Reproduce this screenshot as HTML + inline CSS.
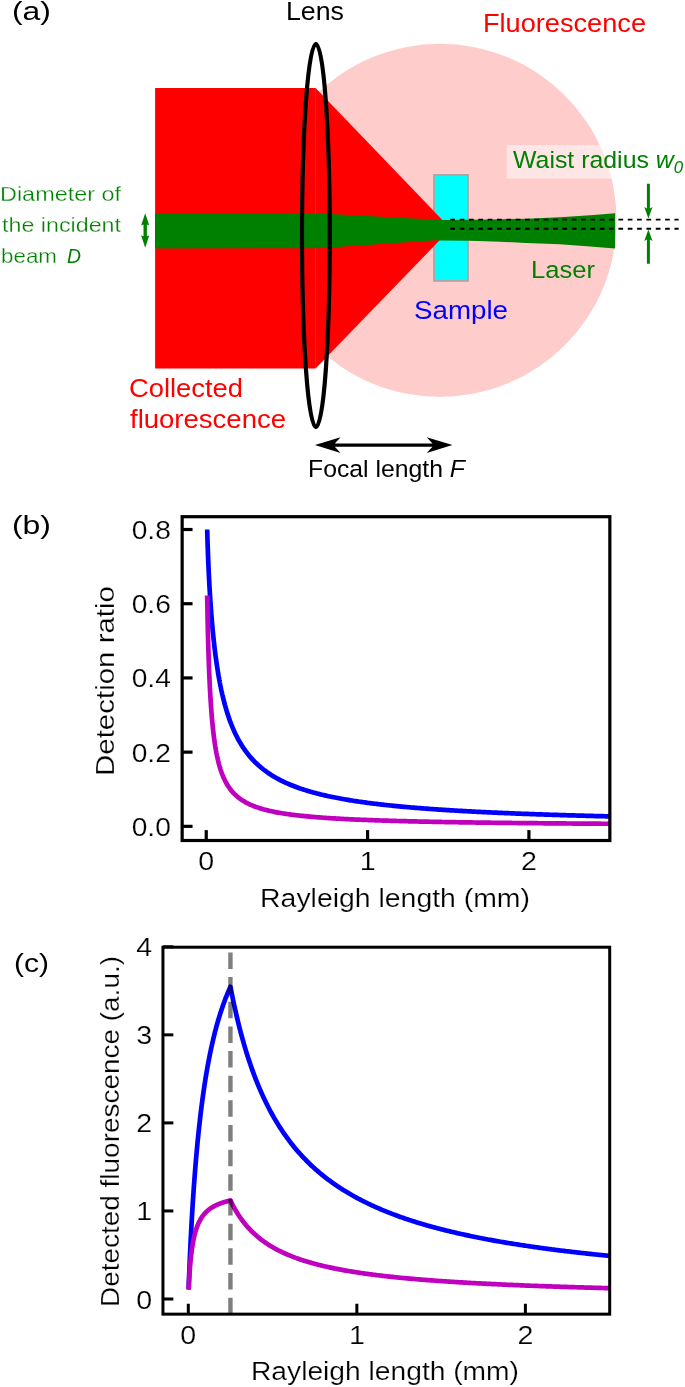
<!DOCTYPE html>
<html><head><meta charset="utf-8"><title>Figure</title>
<style>
html,body{margin:0;padding:0;background:#fff;}
body{width:685px;height:1387px;overflow:hidden;font-family:"Liberation Sans",sans-serif;}
svg{display:block;font-family:"Liberation Sans",sans-serif;will-change:transform;}
</style></head><body>
<svg width="685" height="1387" viewBox="0 0 685 1387">
<rect width="685" height="1387" fill="#fff"/>
<circle cx="440" cy="220.35" r="176.6" fill="#ffcccc"/>
<rect x="434" y="174.95" width="34" height="105.95" fill="#00ffff" stroke="#b0a4a4" stroke-width="1.8"/>
<polygon points="155.1,88.1 315.6,88.1 450.8,228.7 315.6,368.5 155.1,368.5" fill="#ff0000"/>
<path d="M315.6 88.1V368.5" stroke="#fff" stroke-opacity="0.1" stroke-width="1"/>
<polygon points="155.1,213.7 316,213.7 330,214.1 442,219.9 470,219.8 500,219.3 526,218.7 560,217.2 590,215.2 615.1,213.3 615.1,248.6 590,246.6 560,244.3 526,242.9 500,241.7 470,240.8 440,240.4 436,240.3 330,247.4 316,248.3 155.1,248.4" fill="#008000"/>
<rect x="506.8" y="145" width="180" height="33.6" fill="#ffffff" fill-opacity="0.5"/>
<path d="M450.3 219.6H678.6M450.3 228.7H678.6" stroke="#000" stroke-width="1.9" stroke-dasharray="4.7 4.64" fill="none"/>
<ellipse cx="315.9" cy="235.5" rx="13.9" ry="191.6" fill="none" stroke="#000" stroke-width="4.2"/>
<path d="M646.9 183.8H649.9V208.4L652.5 207.1L648.4 218.4L644.3 207.1L646.9 208.4Z" fill="#008000"/>
<path d="M646.9 263.7H649.9V239.6L652.5 240.9L648.4 229.6L644.3 240.9L646.9 239.6Z" fill="#008000"/>
<path d="M145.2 213.2L149.3 225.6L146.9 224.6V236.3L149.3 235.3L145.2 247.7L141.1 235.3L143.5 236.3V224.6L141.1 225.6Z" fill="#008000"/>
<path d="M314.9 445.1L340.6 437.2L334.8 443.5H432.5L426.7 437.2L452.4 445.1L426.7 453L432.5 446.7H334.8L340.6 453Z" fill="#000"/>
<text x="12" y="19.9" font-size="26" fill="#000" text-anchor="start" textLength="39" lengthAdjust="spacingAndGlyphs">(a)</text>
<text x="286" y="19.7" font-size="26" fill="#000" text-anchor="start" textLength="58" lengthAdjust="spacingAndGlyphs">Lens</text>
<text x="483" y="31.6" font-size="26" fill="#ff0000" text-anchor="start" textLength="163" lengthAdjust="spacingAndGlyphs">Fluorescence</text>
<text x="129" y="397.1" font-size="26" fill="#ff0000" text-anchor="start" textLength="114" lengthAdjust="spacingAndGlyphs">Collected</text>
<text x="130" y="427.8" font-size="26" fill="#ff0000" text-anchor="start" textLength="156" lengthAdjust="spacingAndGlyphs">fluorescence</text>
<text x="414" y="319" font-size="26" fill="#0000ff" text-anchor="start" textLength="94" lengthAdjust="spacingAndGlyphs">Sample</text>
<text x="531" y="278.3" font-size="24.3" fill="#008000" text-anchor="start" textLength="64" lengthAdjust="spacingAndGlyphs">Laser</text>
<text x="513" y="168.2" font-size="24.3" fill="#008000" text-anchor="start" textLength="170.2" lengthAdjust="spacingAndGlyphs">Waist radius <tspan font-style="italic">w</tspan><tspan font-style="italic" font-size="16.5" dy="4.6">0</tspan></text>
<text x="308" y="476.7" font-size="24.3" fill="#000" text-anchor="start" textLength="157" lengthAdjust="spacingAndGlyphs">Focal length <tspan font-style="italic">F</tspan></text>
<text x="0" y="200.9" font-size="20.4" fill="#008000" text-anchor="start" textLength="121" lengthAdjust="spacingAndGlyphs" stroke="#fff" stroke-width="0.3">Diameter of</text>
<text x="2" y="232.2" font-size="20.4" fill="#008000" text-anchor="start" textLength="119" lengthAdjust="spacingAndGlyphs" stroke="#fff" stroke-width="0.3">the incident</text>
<text x="1" y="262.6" font-size="20.4" fill="#008000" text-anchor="start" textLength="56" lengthAdjust="spacingAndGlyphs" stroke="#fff" stroke-width="0.3">beam</text>
<text x="67" y="262.6" font-size="20.4" fill="#008000" text-anchor="start" textLength="14" lengthAdjust="spacingAndGlyphs" font-style="italic">D</text>
<path d="M207.19 529.5 L207.27 532.33 L207.34 535.04 L207.42 537.64 L207.5 540.15 L207.57 542.57 L207.65 544.91 L207.73 547.17 L207.8 549.37 L207.88 551.51 L207.95 553.58 L208.03 555.6 L208.11 557.57 L208.18 559.49 L208.26 561.36 L208.34 563.19 L208.41 564.97 L208.49 566.72 L208.57 568.43 L208.64 570.11 L208.72 571.75 L208.79 573.35 L208.87 574.93 L208.95 576.48 L209.02 578 L209.1 579.49 L209.18 580.95 L209.25 582.39 L209.33 583.8 L209.4 585.2 L209.48 586.56 L209.56 587.91 L209.63 589.23 L209.71 590.54 L209.79 591.82 L209.86 593.09 L209.94 594.33 L210.02 595.56 L210.09 596.77 L210.17 597.96 L210.24 599.14 L210.32 600.3 L210.4 601.44 L210.47 602.57 L210.55 603.68 L210.63 604.78 L210.7 605.87 L210.78 606.94 L210.86 608 L210.93 609.04 L211.01 610.07 L211.08 611.09 L211.16 612.1 L211.24 613.1 L211.31 614.08 L211.39 615.05 L211.47 616.01 L211.54 616.96 L211.62 617.9 L211.7 618.83 L211.77 619.75 L211.85 620.66 L211.92 621.56 L212 622.45 L212.08 623.33 L212.15 624.2 L212.23 625.06 L212.31 625.91 L212.38 626.75 L212.46 627.59 L212.53 628.42 L212.61 629.23 L212.69 630.05 L212.76 630.85 L212.84 631.64 L212.92 632.43 L212.99 633.21 L213.07 633.98 L213.15 634.74 L213.22 635.5 L213.3 636.25 L213.37 637 L213.45 637.73 L213.53 638.46 L213.6 639.19 L213.68 639.9 L213.76 640.61 L213.83 641.32 L213.91 642.02 L213.99 642.71 L214.06 643.39 L214.14 644.07 L214.21 644.75 L214.29 645.42 L214.37 646.08 L214.44 646.74 L214.52 647.39 L214.6 648.03 L214.67 648.68 L214.75 649.31 L214.83 649.94 L214.9 650.57 L214.98 651.19 L215.05 651.8 L215.13 652.41 L215.21 653.02 L215.28 653.62 L215.36 654.22 L215.44 654.81 L215.51 655.4 L215.59 655.98 L215.66 656.56 L215.74 657.13 L215.82 657.7 L215.89 658.26 L215.97 658.83 L216.05 659.38 L216.12 659.93 L216.2 660.48 L216.28 661.03 L216.35 661.57 L216.43 662.1 L216.5 662.64 L216.58 663.17 L216.66 663.69 L216.73 664.21 L216.81 664.73 L216.89 665.24 L216.96 665.75 L217.04 666.26 L217.12 666.76 L217.19 667.26 L217.27 667.76 L217.34 668.25 L217.42 668.74 L217.5 669.23 L217.57 669.71 L217.65 670.19 L217.73 670.67 L217.8 671.14 L217.88 671.61 L217.96 672.08 L218.03 672.54 L218.11 673.01 L218.18 673.46 L218.26 673.92 L218.34 674.37 L218.41 674.82 L218.49 675.27 L218.57 675.71 L218.64 676.15 L218.72 676.59 L218.79 677.02 L218.87 677.46 L218.95 677.89 L219.02 678.31 L219.1 678.74 L219.18 679.16 L219.25 679.58 L219.33 679.99 L219.41 680.41 L219.48 680.82 L219.56 681.23 L219.63 681.64 L219.71 682.04 L219.79 682.44 L219.86 682.84 L219.94 683.24 L220.02 683.63 L220.09 684.02 L220.17 684.41 L220.25 684.8 L220.32 685.19 L220.4 685.57 L220.47 685.95 L220.55 686.33 L220.63 686.71 L220.7 687.08 L220.78 687.45 L220.86 687.82 L220.93 688.19 L221.01 688.56 L221.09 688.92 L221.16 689.28 L221.24 689.64 L221.31 690 L221.39 690.36 L221.47 690.71 L221.54 691.06 L221.62 691.41 L221.7 691.76 L221.77 692.11 L221.85 692.45 L221.92 692.79 L222 693.13 L222.08 693.47 L222.15 693.81 L222.23 694.14 L222.31 694.48 L222.38 694.81 L223.68 700.17 L224.97 705.1 L226.27 709.64 L227.56 713.84 L228.86 717.73 L230.15 721.36 L231.45 724.74 L232.74 727.91 L234.04 730.88 L235.33 733.68 L236.63 736.31 L237.92 738.79 L239.22 741.13 L240.51 743.36 L241.81 745.46 L243.1 747.46 L244.4 749.37 L245.69 751.18 L246.99 752.91 L248.28 754.56 L249.58 756.13 L250.87 757.64 L252.17 759.08 L253.46 760.46 L254.76 761.79 L256.05 763.07 L257.35 764.29 L258.64 765.47 L259.94 766.6 L261.23 767.69 L262.53 768.74 L263.82 769.76 L265.12 770.74 L266.41 771.68 L267.71 772.6 L269 773.48 L270.3 774.33 L271.59 775.16 L272.89 775.96 L274.18 776.74 L275.48 777.49 L276.77 778.22 L278.07 778.93 L279.36 779.62 L280.66 780.29 L281.95 780.94 L283.25 781.57 L284.54 782.18 L285.84 782.78 L287.13 783.36 L288.43 783.93 L289.72 784.48 L291.02 785.01 L292.31 785.54 L293.61 786.05 L294.9 786.54 L296.2 787.03 L297.49 787.5 L298.79 787.96 L300.08 788.42 L301.38 788.86 L302.67 789.29 L303.97 789.71 L305.26 790.12 L306.56 790.52 L307.85 790.92 L309.15 791.3 L310.44 791.68 L311.74 792.04 L313.03 792.41 L314.32 792.76 L315.62 793.1 L316.91 793.44 L318.21 793.78 L319.5 794.1 L320.8 794.42 L322.09 794.73 L323.39 795.04 L324.68 795.34 L325.98 795.63 L327.27 795.92 L328.57 796.21 L329.86 796.49 L331.16 796.76 L332.45 797.03 L333.75 797.29 L335.04 797.55 L336.34 797.81 L337.63 798.06 L338.93 798.3 L340.22 798.54 L341.52 798.78 L342.81 799.01 L344.11 799.24 L345.4 799.47 L346.7 799.69 L347.99 799.91 L349.29 800.12 L350.58 800.33 L351.88 800.54 L353.17 800.75 L354.47 800.95 L355.76 801.15 L357.06 801.34 L358.35 801.53 L359.65 801.72 L360.94 801.91 L362.24 802.09 L363.53 802.27 L364.83 802.45 L366.12 802.63 L367.42 802.8 L368.71 802.97 L370.01 803.14 L371.3 803.3 L372.6 803.47 L373.89 803.63 L375.19 803.78 L376.48 803.94 L377.78 804.1 L379.07 804.25 L380.37 804.4 L381.66 804.55 L382.96 804.69 L384.25 804.84 L385.55 804.98 L386.84 805.12 L388.14 805.26 L389.43 805.39 L390.73 805.53 L392.02 805.66 L393.32 805.79 L394.61 805.92 L395.91 806.05 L397.2 806.18 L398.5 806.3 L399.79 806.43 L401.09 806.55 L402.38 806.67 L403.68 806.79 L404.97 806.91 L406.27 807.02 L407.56 807.14 L408.86 807.25 L410.15 807.36 L411.45 807.47 L412.74 807.58 L414.04 807.69 L415.33 807.8 L416.63 807.9 L417.92 808.01 L419.22 808.11 L420.51 808.21 L421.81 808.32 L423.1 808.42 L424.4 808.51 L425.69 808.61 L426.99 808.71 L428.28 808.8 L429.58 808.9 L430.87 808.99 L432.17 809.09 L433.46 809.18 L434.76 809.27 L436.05 809.36 L437.35 809.45 L438.64 809.53 L439.94 809.62 L441.23 809.71 L442.53 809.79 L443.82 809.88 L445.12 809.96 L446.41 810.04 L447.71 810.12 L449 810.21 L450.3 810.29 L451.59 810.37 L452.89 810.44 L454.18 810.52 L455.48 810.6 L456.77 810.68 L458.07 810.75 L459.36 810.83 L460.65 810.9 L461.95 810.97 L463.24 811.05 L464.54 811.12 L465.83 811.19 L467.13 811.26 L468.42 811.33 L469.72 811.4 L471.01 811.47 L472.31 811.54 L473.6 811.6 L474.9 811.67 L476.19 811.74 L477.49 811.8 L478.78 811.87 L480.08 811.93 L481.37 812 L482.67 812.06 L483.96 812.12 L485.26 812.19 L486.55 812.25 L487.85 812.31 L489.14 812.37 L490.44 812.43 L491.73 812.49 L493.03 812.55 L494.32 812.61 L495.62 812.66 L496.91 812.72 L498.21 812.78 L499.5 812.84 L500.8 812.89 L502.09 812.95 L503.39 813 L504.68 813.06 L505.98 813.11 L507.27 813.17 L508.57 813.22 L509.86 813.27 L511.16 813.33 L512.45 813.38 L513.75 813.43 L515.04 813.48 L516.34 813.53 L517.63 813.58 L518.93 813.63 L520.22 813.68 L521.52 813.73 L522.81 813.78 L524.11 813.83 L525.4 813.88 L526.7 813.93 L527.99 813.97 L529.29 814.02 L530.58 814.07 L531.88 814.11 L533.17 814.16 L534.47 814.21 L535.76 814.25 L537.06 814.3 L538.35 814.34 L539.65 814.39 L540.94 814.43 L542.24 814.47 L543.53 814.52 L544.83 814.56 L546.12 814.6 L547.42 814.65 L548.71 814.69 L550.01 814.73 L551.3 814.77 L552.6 814.81 L553.89 814.85 L555.19 814.89 L556.48 814.93 L557.78 814.97 L559.07 815.01 L560.37 815.05 L561.66 815.09 L562.96 815.13 L564.25 815.17 L565.55 815.21 L566.84 815.25 L568.14 815.29 L569.43 815.32 L570.73 815.36 L572.02 815.4 L573.32 815.44 L574.61 815.47 L575.91 815.51 L577.2 815.54 L578.5 815.58 L579.79 815.62 L581.09 815.65 L582.38 815.69 L583.68 815.72 L584.97 815.76 L586.27 815.79 L587.56 815.83 L588.86 815.86 L590.15 815.89 L591.45 815.93 L592.74 815.96 L594.04 815.99 L595.33 816.03 L596.63 816.06 L597.92 816.09 L599.22 816.13 L600.51 816.16 L601.81 816.19 L603.1 816.22 L604.4 816.25 L605.69 816.28 L606.99 816.32 L608.28 816.35 L609.58 816.38" fill="none" stroke="#0000ff" stroke-width="4.7"/>
<path d="M207.19 595.53 L207.27 600.27 L207.34 604.76 L207.42 609.02 L207.5 613.08 L207.57 616.94 L207.65 620.64 L207.73 624.18 L207.8 627.57 L207.88 630.83 L207.95 633.96 L208.03 636.98 L208.11 639.89 L208.18 642.69 L208.26 645.4 L208.34 648.02 L208.41 650.55 L208.49 653.01 L208.57 655.38 L208.64 657.69 L208.72 659.92 L208.79 662.09 L208.87 664.2 L208.95 666.25 L209.02 668.24 L209.1 670.18 L209.18 672.07 L209.25 673.91 L209.33 675.7 L209.4 677.45 L209.48 679.15 L209.56 680.81 L209.63 682.43 L209.71 684.02 L209.79 685.56 L209.86 687.07 L209.94 688.55 L210.02 689.99 L210.09 691.4 L210.17 692.79 L210.24 694.14 L210.32 695.46 L210.4 696.75 L210.47 698.02 L210.55 699.26 L210.63 700.48 L210.7 701.67 L210.78 702.84 L210.86 703.99 L210.93 705.11 L211.01 706.22 L211.08 707.3 L211.16 708.36 L211.24 709.4 L211.31 710.43 L211.39 711.43 L211.47 712.42 L211.54 713.39 L211.62 714.34 L211.7 715.28 L211.77 716.2 L211.85 717.1 L211.92 717.99 L212 718.86 L212.08 719.72 L212.15 720.57 L212.23 721.4 L212.31 722.22 L212.38 723.02 L212.46 723.82 L212.53 724.6 L212.61 725.36 L212.69 726.12 L212.76 726.87 L212.84 727.6 L212.92 728.32 L212.99 729.03 L213.07 729.73 L213.15 730.42 L213.22 731.11 L213.3 731.78 L213.37 732.44 L213.45 733.09 L213.53 733.73 L213.6 734.37 L213.68 734.99 L213.76 735.61 L213.83 736.21 L213.91 736.81 L213.99 737.41 L214.06 737.99 L214.14 738.56 L214.21 739.13 L214.29 739.69 L214.37 740.25 L214.44 740.79 L214.52 741.33 L214.6 741.86 L214.67 742.39 L214.75 742.91 L214.83 743.42 L214.9 743.93 L214.98 744.43 L215.05 744.92 L215.13 745.41 L215.21 745.89 L215.28 746.37 L215.36 746.84 L215.44 747.3 L215.51 747.76 L215.59 748.21 L215.66 748.66 L215.74 749.11 L215.82 749.54 L215.89 749.98 L215.97 750.41 L216.05 750.83 L216.12 751.25 L216.2 751.66 L216.28 752.07 L216.35 752.48 L216.43 752.88 L216.5 753.27 L216.58 753.66 L216.66 754.05 L216.73 754.43 L216.81 754.81 L216.89 755.19 L216.96 755.56 L217.04 755.93 L217.12 756.29 L217.19 756.65 L217.27 757.01 L217.34 757.36 L217.42 757.71 L217.5 758.05 L217.57 758.39 L217.65 758.73 L217.73 759.07 L217.8 759.4 L217.88 759.73 L217.96 760.05 L218.03 760.37 L218.11 760.69 L218.18 761.01 L218.26 761.32 L218.34 761.63 L218.41 761.94 L218.49 762.24 L218.57 762.54 L218.64 762.84 L218.72 763.13 L218.79 763.43 L218.87 763.72 L218.95 764 L219.02 764.29 L219.1 764.57 L219.18 764.85 L219.25 765.13 L219.33 765.4 L219.41 765.67 L219.48 765.94 L219.56 766.21 L219.63 766.47 L219.71 766.73 L219.79 766.99 L219.86 767.25 L219.94 767.51 L220.02 767.76 L220.09 768.01 L220.17 768.26 L220.25 768.51 L220.32 768.75 L220.4 768.99 L220.47 769.23 L220.55 769.47 L220.63 769.71 L220.7 769.94 L220.78 770.18 L220.86 770.41 L220.93 770.63 L221.01 770.86 L221.09 771.09 L221.16 771.31 L221.24 771.53 L221.31 771.75 L221.39 771.97 L221.47 772.18 L221.54 772.4 L221.62 772.61 L221.7 772.82 L221.77 773.03 L221.85 773.24 L221.92 773.44 L222 773.65 L222.08 773.85 L222.15 774.05 L222.23 774.25 L222.31 774.45 L222.38 774.65 L223.68 777.77 L224.97 780.53 L226.27 783 L227.56 785.21 L228.86 787.21 L230.15 789.02 L231.45 790.67 L232.74 792.18 L234.04 793.57 L235.33 794.85 L236.63 796.03 L237.92 797.13 L239.22 798.15 L240.51 799.1 L241.81 799.99 L243.1 800.82 L244.4 801.6 L245.69 802.34 L246.99 803.03 L248.28 803.69 L249.58 804.3 L250.87 804.89 L252.17 805.44 L253.46 805.97 L254.76 806.47 L256.05 806.95 L257.35 807.4 L258.64 807.84 L259.94 808.25 L261.23 808.65 L262.53 809.03 L263.82 809.39 L265.12 809.74 L266.41 810.07 L267.71 810.4 L269 810.7 L270.3 811 L271.59 811.29 L272.89 811.56 L274.18 811.83 L275.48 812.08 L276.77 812.33 L278.07 812.57 L279.36 812.8 L280.66 813.02 L281.95 813.24 L283.25 813.45 L284.54 813.65 L285.84 813.85 L287.13 814.04 L288.43 814.22 L289.72 814.4 L291.02 814.58 L292.31 814.75 L293.61 814.91 L294.9 815.07 L296.2 815.22 L297.49 815.38 L298.79 815.52 L300.08 815.67 L301.38 815.8 L302.67 815.94 L303.97 816.07 L305.26 816.2 L306.56 816.33 L307.85 816.45 L309.15 816.57 L310.44 816.69 L311.74 816.8 L313.03 816.91 L314.32 817.02 L315.62 817.13 L316.91 817.23 L318.21 817.33 L319.5 817.43 L320.8 817.53 L322.09 817.62 L323.39 817.72 L324.68 817.81 L325.98 817.9 L327.27 817.99 L328.57 818.07 L329.86 818.15 L331.16 818.24 L332.45 818.32 L333.75 818.4 L335.04 818.47 L336.34 818.55 L337.63 818.62 L338.93 818.7 L340.22 818.77 L341.52 818.84 L342.81 818.91 L344.11 818.98 L345.4 819.04 L346.7 819.11 L347.99 819.17 L349.29 819.24 L350.58 819.3 L351.88 819.36 L353.17 819.42 L354.47 819.48 L355.76 819.54 L357.06 819.59 L358.35 819.65 L359.65 819.7 L360.94 819.76 L362.24 819.81 L363.53 819.86 L364.83 819.92 L366.12 819.97 L367.42 820.02 L368.71 820.07 L370.01 820.11 L371.3 820.16 L372.6 820.21 L373.89 820.25 L375.19 820.3 L376.48 820.35 L377.78 820.39 L379.07 820.43 L380.37 820.48 L381.66 820.52 L382.96 820.56 L384.25 820.6 L385.55 820.64 L386.84 820.68 L388.14 820.72 L389.43 820.76 L390.73 820.8 L392.02 820.84 L393.32 820.87 L394.61 820.91 L395.91 820.95 L397.2 820.98 L398.5 821.02 L399.79 821.05 L401.09 821.09 L402.38 821.12 L403.68 821.15 L404.97 821.19 L406.27 821.22 L407.56 821.25 L408.86 821.28 L410.15 821.32 L411.45 821.35 L412.74 821.38 L414.04 821.41 L415.33 821.44 L416.63 821.47 L417.92 821.5 L419.22 821.53 L420.51 821.56 L421.81 821.58 L423.1 821.61 L424.4 821.64 L425.69 821.67 L426.99 821.69 L428.28 821.72 L429.58 821.75 L430.87 821.77 L432.17 821.8 L433.46 821.82 L434.76 821.85 L436.05 821.87 L437.35 821.9 L438.64 821.92 L439.94 821.95 L441.23 821.97 L442.53 821.99 L443.82 822.02 L445.12 822.04 L446.41 822.06 L447.71 822.09 L449 822.11 L450.3 822.13 L451.59 822.15 L452.89 822.17 L454.18 822.2 L455.48 822.22 L456.77 822.24 L458.07 822.26 L459.36 822.28 L460.65 822.3 L461.95 822.32 L463.24 822.34 L464.54 822.36 L465.83 822.38 L467.13 822.4 L468.42 822.42 L469.72 822.44 L471.01 822.46 L472.31 822.47 L473.6 822.49 L474.9 822.51 L476.19 822.53 L477.49 822.55 L478.78 822.56 L480.08 822.58 L481.37 822.6 L482.67 822.62 L483.96 822.63 L485.26 822.65 L486.55 822.67 L487.85 822.68 L489.14 822.7 L490.44 822.72 L491.73 822.73 L493.03 822.75 L494.32 822.77 L495.62 822.78 L496.91 822.8 L498.21 822.81 L499.5 822.83 L500.8 822.84 L502.09 822.86 L503.39 822.87 L504.68 822.89 L505.98 822.9 L507.27 822.92 L508.57 822.93 L509.86 822.95 L511.16 822.96 L512.45 822.98 L513.75 822.99 L515.04 823 L516.34 823.02 L517.63 823.03 L518.93 823.04 L520.22 823.06 L521.52 823.07 L522.81 823.08 L524.11 823.1 L525.4 823.11 L526.7 823.12 L527.99 823.14 L529.29 823.15 L530.58 823.16 L531.88 823.17 L533.17 823.19 L534.47 823.2 L535.76 823.21 L537.06 823.22 L538.35 823.24 L539.65 823.25 L540.94 823.26 L542.24 823.27 L543.53 823.28 L544.83 823.29 L546.12 823.31 L547.42 823.32 L548.71 823.33 L550.01 823.34 L551.3 823.35 L552.6 823.36 L553.89 823.37 L555.19 823.38 L556.48 823.39 L557.78 823.41 L559.07 823.42 L560.37 823.43 L561.66 823.44 L562.96 823.45 L564.25 823.46 L565.55 823.47 L566.84 823.48 L568.14 823.49 L569.43 823.5 L570.73 823.51 L572.02 823.52 L573.32 823.53 L574.61 823.54 L575.91 823.55 L577.2 823.56 L578.5 823.57 L579.79 823.58 L581.09 823.59 L582.38 823.6 L583.68 823.61 L584.97 823.61 L586.27 823.62 L587.56 823.63 L588.86 823.64 L590.15 823.65 L591.45 823.66 L592.74 823.67 L594.04 823.68 L595.33 823.69 L596.63 823.7 L597.92 823.7 L599.22 823.71 L600.51 823.72 L601.81 823.73 L603.1 823.74 L604.4 823.75 L605.69 823.75 L606.99 823.76 L608.28 823.77 L609.58 823.78" fill="none" stroke="#bf00bf" stroke-width="4.7"/>
<g stroke="#000" stroke-width="3.2"><line x1="182.15" x2="192.55" y1="826.35" y2="826.35"/><line x1="182.15" x2="192.55" y1="752.14" y2="752.14"/><line x1="182.15" x2="192.55" y1="677.93" y2="677.93"/><line x1="182.15" x2="192.55" y1="603.71" y2="603.71"/><line x1="182.15" x2="192.55" y1="529.5" y2="529.5"/><line x1="206.25" x2="206.25" y1="840.5" y2="830.1"/><line x1="367.58" x2="367.58" y1="840.5" y2="830.1"/><line x1="528.91" x2="528.91" y1="840.5" y2="830.1"/></g>
<rect x="182.15" y="516.7" width="427.7" height="323.8" fill="none" stroke="#000" stroke-width="3.2"/>
<text x="12" y="533.9" font-size="26" fill="#000" text-anchor="start" textLength="39" lengthAdjust="spacingAndGlyphs">(b)</text>
<text x="131.7" y="835.85" font-size="26" fill="#000" text-anchor="start" textLength="39.2" lengthAdjust="spacingAndGlyphs" stroke="#fff" stroke-width="0.2">0.0</text>
<text x="131.7" y="761.64" font-size="26" fill="#000" text-anchor="start" textLength="39.2" lengthAdjust="spacingAndGlyphs" stroke="#fff" stroke-width="0.2">0.2</text>
<text x="131.7" y="687.43" font-size="26" fill="#000" text-anchor="start" textLength="39.2" lengthAdjust="spacingAndGlyphs" stroke="#fff" stroke-width="0.2">0.4</text>
<text x="131.7" y="613.21" font-size="26" fill="#000" text-anchor="start" textLength="39.2" lengthAdjust="spacingAndGlyphs" stroke="#fff" stroke-width="0.2">0.6</text>
<text x="131.7" y="539" font-size="26" fill="#000" text-anchor="start" textLength="39.2" lengthAdjust="spacingAndGlyphs" stroke="#fff" stroke-width="0.2">0.8</text>
<text transform="translate(206.25 870.4) scale(1.1 1)" font-size="26" fill="#000" text-anchor="middle" stroke="#fff" stroke-width="0.2">0</text>
<text transform="translate(367.58 870.4) scale(1.1 1)" font-size="26" fill="#000" text-anchor="middle" stroke="#fff" stroke-width="0.2">1</text>
<text transform="translate(528.91 870.4) scale(1.1 1)" font-size="26" fill="#000" text-anchor="middle" stroke="#fff" stroke-width="0.2">2</text>
<text x="260.1" y="906.8" font-size="25.6" fill="#000" text-anchor="start" textLength="269.9" lengthAdjust="spacingAndGlyphs" stroke="#fff" stroke-width="0.2">Rayleigh length (mm)</text>
<text transform="translate(114.2 776) rotate(-90)" x="0" y="0" font-size="25.6" fill="#000" text-anchor="start" textLength="190" lengthAdjust="spacingAndGlyphs" stroke="#fff" stroke-width="0.2">Detection ratio</text>
<path d="M188.64 1288.62 L188.8 1283.89 L188.97 1279.35 L189.14 1274.97 L189.31 1270.75 L189.48 1266.65 L189.64 1262.67 L189.81 1258.8 L189.98 1255.04 L190.15 1251.37 L190.32 1247.79 L190.48 1244.29 L190.65 1240.87 L190.82 1237.53 L190.99 1234.26 L191.16 1231.06 L191.32 1227.92 L191.49 1224.85 L191.66 1221.84 L191.83 1218.88 L191.99 1215.98 L192.16 1213.14 L192.33 1210.35 L192.5 1207.6 L192.67 1204.91 L192.83 1202.26 L193 1199.66 L193.17 1197.1 L193.34 1194.58 L193.51 1192.11 L193.67 1189.67 L193.84 1187.28 L194.01 1184.92 L194.18 1182.6 L194.34 1180.31 L194.51 1178.06 L194.68 1175.84 L194.85 1173.66 L195.02 1171.5 L195.18 1169.38 L195.35 1167.29 L195.52 1165.23 L195.69 1163.2 L195.86 1161.19 L196.02 1159.22 L196.19 1157.27 L196.36 1155.35 L196.53 1153.45 L196.7 1151.58 L196.86 1149.73 L197.03 1147.91 L197.2 1146.11 L197.37 1144.33 L197.53 1142.58 L197.7 1140.85 L197.87 1139.14 L198.04 1137.45 L198.21 1135.78 L198.37 1134.14 L198.54 1132.51 L198.71 1130.9 L198.88 1129.31 L199.05 1127.75 L199.21 1126.19 L199.38 1124.66 L199.55 1123.15 L199.72 1121.65 L199.88 1120.17 L200.05 1118.71 L200.22 1117.26 L200.39 1115.83 L200.56 1114.41 L200.72 1113.01 L200.89 1111.63 L201.06 1110.26 L201.23 1108.91 L201.4 1107.57 L201.56 1106.24 L201.73 1104.93 L201.9 1103.64 L202.07 1102.35 L202.23 1101.08 L202.4 1099.83 L202.57 1098.58 L202.74 1097.35 L202.91 1096.13 L203.07 1094.93 L203.24 1093.73 L203.41 1092.55 L203.58 1091.38 L203.75 1090.22 L203.91 1089.08 L204.08 1087.94 L204.25 1086.81 L204.42 1085.7 L204.59 1084.6 L204.75 1083.5 L204.92 1082.42 L205.09 1081.35 L205.26 1080.29 L205.42 1079.24 L205.59 1078.19 L205.76 1077.16 L205.93 1076.14 L206.1 1075.12 L206.26 1074.12 L206.43 1073.12 L206.6 1072.14 L206.77 1071.16 L206.94 1070.19 L207.1 1069.23 L207.27 1068.28 L207.44 1067.34 L207.61 1066.4 L207.77 1065.48 L207.94 1064.56 L208.11 1063.65 L208.28 1062.74 L208.45 1061.85 L208.61 1060.96 L208.78 1060.08 L208.95 1059.21 L209.12 1058.35 L209.29 1057.49 L209.45 1056.64 L209.62 1055.79 L209.79 1054.96 L209.96 1054.13 L210.12 1053.3 L210.29 1052.49 L210.46 1051.68 L210.63 1050.87 L210.8 1050.08 L210.96 1049.29 L211.13 1048.5 L211.3 1047.73 L211.47 1046.95 L211.64 1046.19 L211.8 1045.43 L211.97 1044.68 L212.14 1043.93 L212.31 1043.19 L212.48 1042.45 L212.64 1041.72 L212.81 1040.99 L212.98 1040.27 L213.15 1039.56 L213.31 1038.85 L213.48 1038.15 L213.65 1037.45 L213.82 1036.76 L213.99 1036.07 L214.15 1035.39 L214.32 1034.71 L214.49 1034.04 L214.66 1033.37 L214.83 1032.71 L214.99 1032.05 L215.16 1031.4 L215.33 1030.75 L215.5 1030.1 L215.66 1029.46 L215.83 1028.83 L216 1028.2 L216.17 1027.57 L216.34 1026.95 L216.5 1026.34 L216.67 1025.72 L216.84 1025.11 L217.01 1024.51 L217.18 1023.91 L217.34 1023.31 L217.51 1022.72 L217.68 1022.14 L217.85 1021.55 L218.01 1020.97 L218.18 1020.4 L218.35 1019.82 L218.52 1019.26 L218.69 1018.69 L218.85 1018.13 L219.02 1017.57 L219.19 1017.02 L219.36 1016.47 L219.53 1015.93 L219.69 1015.38 L219.86 1014.85 L220.03 1014.31 L220.2 1013.78 L220.37 1013.25 L220.53 1012.73 L220.7 1012.2 L220.87 1011.69 L221.04 1011.17 L221.2 1010.66 L221.37 1010.15 L221.54 1009.65 L221.71 1009.14 L221.88 1008.64 L222.04 1008.15 L222.21 1007.66 L222.38 1007.17 L222.55 1006.68 L222.72 1006.2 L222.88 1005.72 L223.05 1005.24 L223.22 1004.76 L223.39 1004.29 L223.55 1003.82 L223.72 1003.36 L223.89 1002.89 L224.06 1002.43 L224.23 1001.98 L224.39 1001.52 L224.56 1001.07 L224.73 1000.62 L224.9 1000.17 L225.07 999.73 L225.23 999.29 L225.4 998.85 L225.57 998.41 L225.74 997.98 L225.9 997.55 L226.07 997.12 L226.24 996.69 L226.41 996.27 L226.58 995.85 L226.74 995.43 L226.91 995.01 L227.08 994.6 L227.25 994.18 L227.42 993.77 L227.58 993.37 L227.75 992.96 L227.92 992.56 L228.09 992.16 L228.26 991.76 L228.42 991.37 L228.59 990.97 L228.76 990.58 L228.93 990.19 L229.09 989.8 L229.26 989.42 L229.43 989.03 L229.6 988.65 L229.77 988.27 L229.93 987.9 L230.1 987.52 L230.27 987.15 L230.44 986.78 L231.71 993.24 L232.97 999.44 L234.24 1005.39 L235.51 1011.11 L236.78 1016.6 L238.05 1021.89 L239.32 1026.97 L240.58 1031.88 L241.85 1036.61 L243.12 1041.17 L244.39 1045.57 L245.66 1049.83 L246.93 1053.94 L248.19 1057.92 L249.46 1061.77 L250.73 1065.49 L252 1069.11 L253.27 1072.61 L254.54 1076 L255.8 1079.3 L257.07 1082.49 L258.34 1085.6 L259.61 1088.62 L260.88 1091.55 L262.15 1094.4 L263.41 1097.17 L264.68 1099.87 L265.95 1102.5 L267.22 1105.05 L268.49 1107.55 L269.76 1109.98 L271.02 1112.34 L272.29 1114.65 L273.56 1116.9 L274.83 1119.1 L276.1 1121.25 L277.37 1123.34 L278.63 1125.38 L279.9 1127.38 L281.17 1129.33 L282.44 1131.24 L283.71 1133.11 L284.98 1134.93 L286.25 1136.72 L287.51 1138.46 L288.78 1140.17 L290.05 1141.84 L291.32 1143.48 L292.59 1145.08 L293.86 1146.65 L295.12 1148.19 L296.39 1149.7 L297.66 1151.18 L298.93 1152.63 L300.2 1154.05 L301.47 1155.44 L302.73 1156.81 L304 1158.15 L305.27 1159.47 L306.54 1160.76 L307.81 1162.02 L309.08 1163.27 L310.34 1164.49 L311.61 1165.69 L312.88 1166.87 L314.15 1168.03 L315.42 1169.17 L316.69 1170.29 L317.95 1171.38 L319.22 1172.47 L320.49 1173.53 L321.76 1174.57 L323.03 1175.6 L324.3 1176.61 L325.56 1177.6 L326.83 1178.58 L328.1 1179.54 L329.37 1180.49 L330.64 1181.42 L331.91 1182.34 L333.17 1183.25 L334.44 1184.13 L335.71 1185.01 L336.98 1185.87 L338.25 1186.72 L339.52 1187.56 L340.78 1188.38 L342.05 1189.2 L343.32 1190 L344.59 1190.79 L345.86 1191.56 L347.13 1192.33 L348.39 1193.09 L349.66 1193.83 L350.93 1194.56 L352.2 1195.29 L353.47 1196 L354.74 1196.71 L356 1197.4 L357.27 1198.09 L358.54 1198.76 L359.81 1199.43 L361.08 1200.09 L362.35 1200.74 L363.61 1201.38 L364.88 1202.01 L366.15 1202.64 L367.42 1203.26 L368.69 1203.87 L369.96 1204.47 L371.22 1205.06 L372.49 1205.65 L373.76 1206.23 L375.03 1206.8 L376.3 1207.36 L377.57 1207.92 L378.83 1208.47 L380.1 1209.02 L381.37 1209.55 L382.64 1210.09 L383.91 1210.61 L385.18 1211.13 L386.44 1211.64 L387.71 1212.15 L388.98 1212.65 L390.25 1213.15 L391.52 1213.64 L392.79 1214.12 L394.06 1214.6 L395.32 1215.07 L396.59 1215.54 L397.86 1216.01 L399.13 1216.46 L400.4 1216.92 L401.67 1217.36 L402.93 1217.81 L404.2 1218.24 L405.47 1218.68 L406.74 1219.11 L408.01 1219.53 L409.28 1219.95 L410.54 1220.37 L411.81 1220.78 L413.08 1221.18 L414.35 1221.59 L415.62 1221.99 L416.89 1222.38 L418.15 1222.77 L419.42 1223.16 L420.69 1223.54 L421.96 1223.92 L423.23 1224.29 L424.5 1224.66 L425.76 1225.03 L427.03 1225.4 L428.3 1225.76 L429.57 1226.11 L430.84 1226.47 L432.11 1226.82 L433.37 1227.16 L434.64 1227.51 L435.91 1227.85 L437.18 1228.18 L438.45 1228.52 L439.72 1228.85 L440.98 1229.17 L442.25 1229.5 L443.52 1229.82 L444.79 1230.14 L446.06 1230.45 L447.33 1230.77 L448.59 1231.07 L449.86 1231.38 L451.13 1231.69 L452.4 1231.99 L453.67 1232.29 L454.94 1232.58 L456.2 1232.88 L457.47 1233.17 L458.74 1233.45 L460.01 1233.74 L461.28 1234.02 L462.55 1234.3 L463.81 1234.58 L465.08 1234.86 L466.35 1235.13 L467.62 1235.4 L468.89 1235.67 L470.16 1235.94 L471.42 1236.2 L472.69 1236.47 L473.96 1236.73 L475.23 1236.99 L476.5 1237.24 L477.77 1237.5 L479.03 1237.75 L480.3 1238 L481.57 1238.24 L482.84 1238.49 L484.11 1238.73 L485.38 1238.97 L486.64 1239.21 L487.91 1239.45 L489.18 1239.69 L490.45 1239.92 L491.72 1240.15 L492.99 1240.39 L494.25 1240.61 L495.52 1240.84 L496.79 1241.07 L498.06 1241.29 L499.33 1241.51 L500.6 1241.73 L501.87 1241.95 L503.13 1242.17 L504.4 1242.38 L505.67 1242.59 L506.94 1242.81 L508.21 1243.02 L509.48 1243.22 L510.74 1243.43 L512.01 1243.64 L513.28 1243.84 L514.55 1244.04 L515.82 1244.24 L517.09 1244.44 L518.35 1244.64 L519.62 1244.84 L520.89 1245.03 L522.16 1245.23 L523.43 1245.42 L524.7 1245.61 L525.96 1245.8 L527.23 1245.99 L528.5 1246.18 L529.77 1246.36 L531.04 1246.55 L532.31 1246.73 L533.57 1246.91 L534.84 1247.09 L536.11 1247.27 L537.38 1247.45 L538.65 1247.63 L539.92 1247.8 L541.18 1247.98 L542.45 1248.15 L543.72 1248.32 L544.99 1248.49 L546.26 1248.66 L547.53 1248.83 L548.79 1249 L550.06 1249.17 L551.33 1249.33 L552.6 1249.5 L553.87 1249.66 L555.14 1249.82 L556.4 1249.98 L557.67 1250.14 L558.94 1250.3 L560.21 1250.46 L561.48 1250.62 L562.75 1250.77 L564.01 1250.93 L565.28 1251.08 L566.55 1251.23 L567.82 1251.39 L569.09 1251.54 L570.36 1251.69 L571.62 1251.84 L572.89 1251.98 L574.16 1252.13 L575.43 1252.28 L576.7 1252.42 L577.97 1252.57 L579.23 1252.71 L580.5 1252.85 L581.77 1253 L583.04 1253.14 L584.31 1253.28 L585.58 1253.42 L586.84 1253.55 L588.11 1253.69 L589.38 1253.83 L590.65 1253.96 L591.92 1254.1 L593.19 1254.23 L594.45 1254.37 L595.72 1254.5 L596.99 1254.63 L598.26 1254.76 L599.53 1254.89 L600.8 1255.02 L602.06 1255.15 L603.33 1255.28 L604.6 1255.41 L605.87 1255.53 L607.14 1255.66 L608.41 1255.78 L609.67 1255.91" fill="none" stroke="#0000ff" stroke-width="4.7" stroke-linejoin="round"/>
<path d="M188.64 1289.93 L188.8 1286.24 L188.97 1282.89 L189.14 1279.82 L189.31 1276.98 L189.48 1274.35 L189.64 1271.89 L189.81 1269.58 L189.98 1267.42 L190.15 1265.38 L190.32 1263.45 L190.48 1261.63 L190.65 1259.9 L190.82 1258.26 L190.99 1256.7 L191.16 1255.21 L191.32 1253.78 L191.49 1252.43 L191.66 1251.13 L191.83 1249.88 L191.99 1248.69 L192.16 1247.54 L192.33 1246.44 L192.5 1245.38 L192.67 1244.37 L192.83 1243.39 L193 1242.44 L193.17 1241.53 L193.34 1240.65 L193.51 1239.8 L193.67 1238.98 L193.84 1238.18 L194.01 1237.41 L194.18 1236.67 L194.34 1235.95 L194.51 1235.25 L194.68 1234.57 L194.85 1233.91 L195.02 1233.28 L195.18 1232.66 L195.35 1232.05 L195.52 1231.47 L195.69 1230.9 L195.86 1230.34 L196.02 1229.8 L196.19 1229.28 L196.36 1228.77 L196.53 1228.27 L196.7 1227.78 L196.86 1227.31 L197.03 1226.85 L197.2 1226.4 L197.37 1225.96 L197.53 1225.53 L197.7 1225.11 L197.87 1224.7 L198.04 1224.3 L198.21 1223.91 L198.37 1223.53 L198.54 1223.16 L198.71 1222.79 L198.88 1222.43 L199.05 1222.08 L199.21 1221.74 L199.38 1221.41 L199.55 1221.08 L199.72 1220.76 L199.88 1220.44 L200.05 1220.13 L200.22 1219.83 L200.39 1219.53 L200.56 1219.24 L200.72 1218.96 L200.89 1218.68 L201.06 1218.41 L201.23 1218.14 L201.4 1217.87 L201.56 1217.61 L201.73 1217.36 L201.9 1217.11 L202.07 1216.86 L202.23 1216.62 L202.4 1216.38 L202.57 1216.15 L202.74 1215.92 L202.91 1215.7 L203.07 1215.48 L203.24 1215.26 L203.41 1215.05 L203.58 1214.84 L203.75 1214.63 L203.91 1214.43 L204.08 1214.23 L204.25 1214.03 L204.42 1213.84 L204.59 1213.64 L204.75 1213.46 L204.92 1213.27 L205.09 1213.09 L205.26 1212.91 L205.42 1212.73 L205.59 1212.56 L205.76 1212.39 L205.93 1212.22 L206.1 1212.05 L206.26 1211.89 L206.43 1211.73 L206.6 1211.57 L206.77 1211.41 L206.94 1211.26 L207.1 1211.11 L207.27 1210.96 L207.44 1210.81 L207.61 1210.66 L207.77 1210.52 L207.94 1210.38 L208.11 1210.24 L208.28 1210.1 L208.45 1209.96 L208.61 1209.83 L208.78 1209.69 L208.95 1209.56 L209.12 1209.43 L209.29 1209.3 L209.45 1209.18 L209.62 1209.05 L209.79 1208.93 L209.96 1208.81 L210.12 1208.69 L210.29 1208.57 L210.46 1208.45 L210.63 1208.34 L210.8 1208.22 L210.96 1208.11 L211.13 1208 L211.3 1207.89 L211.47 1207.78 L211.64 1207.67 L211.8 1207.57 L211.97 1207.46 L212.14 1207.36 L212.31 1207.26 L212.48 1207.15 L212.64 1207.05 L212.81 1206.95 L212.98 1206.86 L213.15 1206.76 L213.31 1206.66 L213.48 1206.57 L213.65 1206.48 L213.82 1206.38 L213.99 1206.29 L214.15 1206.2 L214.32 1206.11 L214.49 1206.02 L214.66 1205.93 L214.83 1205.85 L214.99 1205.76 L215.16 1205.68 L215.33 1205.59 L215.5 1205.51 L215.66 1205.43 L215.83 1205.34 L216 1205.26 L216.17 1205.18 L216.34 1205.1 L216.5 1205.03 L216.67 1204.95 L216.84 1204.87 L217.01 1204.8 L217.18 1204.72 L217.34 1204.65 L217.51 1204.57 L217.68 1204.5 L217.85 1204.43 L218.01 1204.36 L218.18 1204.28 L218.35 1204.21 L218.52 1204.14 L218.69 1204.08 L218.85 1204.01 L219.02 1203.94 L219.19 1203.87 L219.36 1203.81 L219.53 1203.74 L219.69 1203.68 L219.86 1203.61 L220.03 1203.55 L220.2 1203.48 L220.37 1203.42 L220.53 1203.36 L220.7 1203.3 L220.87 1203.24 L221.04 1203.17 L221.2 1203.11 L221.37 1203.05 L221.54 1203 L221.71 1202.94 L221.88 1202.88 L222.04 1202.82 L222.21 1202.76 L222.38 1202.71 L222.55 1202.65 L222.72 1202.6 L222.88 1202.54 L223.05 1202.49 L223.22 1202.43 L223.39 1202.38 L223.55 1202.33 L223.72 1202.27 L223.89 1202.22 L224.06 1202.17 L224.23 1202.12 L224.39 1202.07 L224.56 1202.01 L224.73 1201.96 L224.9 1201.91 L225.07 1201.86 L225.23 1201.82 L225.4 1201.77 L225.57 1201.72 L225.74 1201.67 L225.9 1201.62 L226.07 1201.58 L226.24 1201.53 L226.41 1201.48 L226.58 1201.44 L226.74 1201.39 L226.91 1201.35 L227.08 1201.3 L227.25 1201.26 L227.42 1201.21 L227.58 1201.17 L227.75 1201.12 L227.92 1201.08 L228.09 1201.04 L228.26 1200.99 L228.42 1200.95 L228.59 1200.91 L228.76 1200.87 L228.93 1200.83 L229.09 1200.78 L229.26 1200.74 L229.43 1200.7 L229.6 1200.66 L229.77 1200.62 L229.93 1200.58 L230.1 1200.54 L230.27 1200.5 L230.44 1200.47 L231.71 1203.07 L232.97 1205.54 L234.24 1207.88 L235.51 1210.11 L236.78 1212.23 L238.05 1214.26 L239.32 1216.19 L240.58 1218.03 L241.85 1219.8 L243.12 1221.49 L244.39 1223.11 L245.66 1224.66 L246.93 1226.15 L248.19 1227.58 L249.46 1228.96 L250.73 1230.28 L252 1231.56 L253.27 1232.79 L254.54 1233.97 L255.8 1235.11 L257.07 1236.22 L258.34 1237.28 L259.61 1238.31 L260.88 1239.31 L262.15 1240.27 L263.41 1241.21 L264.68 1242.11 L265.95 1242.99 L267.22 1243.84 L268.49 1244.66 L269.76 1245.46 L271.02 1246.24 L272.29 1247 L273.56 1247.73 L274.83 1248.44 L276.1 1249.14 L277.37 1249.81 L278.63 1250.47 L279.9 1251.11 L281.17 1251.73 L282.44 1252.34 L283.71 1252.93 L284.98 1253.5 L286.25 1254.07 L287.51 1254.61 L288.78 1255.15 L290.05 1255.67 L291.32 1256.18 L292.59 1256.68 L293.86 1257.17 L295.12 1257.64 L296.39 1258.11 L297.66 1258.56 L298.93 1259.01 L300.2 1259.44 L301.47 1259.87 L302.73 1260.29 L304 1260.69 L305.27 1261.09 L306.54 1261.48 L307.81 1261.87 L309.08 1262.24 L310.34 1262.61 L311.61 1262.97 L312.88 1263.32 L314.15 1263.67 L315.42 1264.01 L316.69 1264.34 L317.95 1264.67 L319.22 1264.99 L320.49 1265.31 L321.76 1265.62 L323.03 1265.92 L324.3 1266.22 L325.56 1266.51 L326.83 1266.8 L328.1 1267.08 L329.37 1267.36 L330.64 1267.63 L331.91 1267.9 L333.17 1268.17 L334.44 1268.42 L335.71 1268.68 L336.98 1268.93 L338.25 1269.18 L339.52 1269.42 L340.78 1269.66 L342.05 1269.89 L343.32 1270.12 L344.59 1270.35 L345.86 1270.58 L347.13 1270.8 L348.39 1271.01 L349.66 1271.23 L350.93 1271.44 L352.2 1271.64 L353.47 1271.85 L354.74 1272.05 L356 1272.25 L357.27 1272.44 L358.54 1272.64 L359.81 1272.83 L361.08 1273.01 L362.35 1273.2 L363.61 1273.38 L364.88 1273.56 L366.15 1273.74 L367.42 1273.91 L368.69 1274.08 L369.96 1274.25 L371.22 1274.42 L372.49 1274.58 L373.76 1274.75 L375.03 1274.91 L376.3 1275.07 L377.57 1275.22 L378.83 1275.38 L380.1 1275.53 L381.37 1275.68 L382.64 1275.83 L383.91 1275.98 L385.18 1276.12 L386.44 1276.26 L387.71 1276.4 L388.98 1276.54 L390.25 1276.68 L391.52 1276.82 L392.79 1276.95 L394.06 1277.09 L395.32 1277.22 L396.59 1277.35 L397.86 1277.47 L399.13 1277.6 L400.4 1277.73 L401.67 1277.85 L402.93 1277.97 L404.2 1278.09 L405.47 1278.21 L406.74 1278.33 L408.01 1278.45 L409.28 1278.56 L410.54 1278.68 L411.81 1278.79 L413.08 1278.9 L414.35 1279.01 L415.62 1279.12 L416.89 1279.23 L418.15 1279.34 L419.42 1279.44 L420.69 1279.55 L421.96 1279.65 L423.23 1279.75 L424.5 1279.85 L425.76 1279.95 L427.03 1280.05 L428.3 1280.15 L429.57 1280.25 L430.84 1280.35 L432.11 1280.44 L433.37 1280.53 L434.64 1280.63 L435.91 1280.72 L437.18 1280.81 L438.45 1280.9 L439.72 1280.99 L440.98 1281.08 L442.25 1281.17 L443.52 1281.26 L444.79 1281.34 L446.06 1281.43 L447.33 1281.51 L448.59 1281.6 L449.86 1281.68 L451.13 1281.76 L452.4 1281.84 L453.67 1281.92 L454.94 1282 L456.2 1282.08 L457.47 1282.16 L458.74 1282.24 L460.01 1282.31 L461.28 1282.39 L462.55 1282.47 L463.81 1282.54 L465.08 1282.61 L466.35 1282.69 L467.62 1282.76 L468.89 1282.83 L470.16 1282.9 L471.42 1282.98 L472.69 1283.05 L473.96 1283.12 L475.23 1283.18 L476.5 1283.25 L477.77 1283.32 L479.03 1283.39 L480.3 1283.46 L481.57 1283.52 L482.84 1283.59 L484.11 1283.65 L485.38 1283.72 L486.64 1283.78 L487.91 1283.84 L489.18 1283.91 L490.45 1283.97 L491.72 1284.03 L492.99 1284.09 L494.25 1284.15 L495.52 1284.21 L496.79 1284.27 L498.06 1284.33 L499.33 1284.39 L500.6 1284.45 L501.87 1284.51 L503.13 1284.57 L504.4 1284.62 L505.67 1284.68 L506.94 1284.74 L508.21 1284.79 L509.48 1284.85 L510.74 1284.9 L512.01 1284.96 L513.28 1285.01 L514.55 1285.06 L515.82 1285.12 L517.09 1285.17 L518.35 1285.22 L519.62 1285.27 L520.89 1285.33 L522.16 1285.38 L523.43 1285.43 L524.7 1285.48 L525.96 1285.53 L527.23 1285.58 L528.5 1285.63 L529.77 1285.68 L531.04 1285.73 L532.31 1285.77 L533.57 1285.82 L534.84 1285.87 L536.11 1285.92 L537.38 1285.96 L538.65 1286.01 L539.92 1286.06 L541.18 1286.1 L542.45 1286.15 L543.72 1286.19 L544.99 1286.24 L546.26 1286.28 L547.53 1286.33 L548.79 1286.37 L550.06 1286.41 L551.33 1286.46 L552.6 1286.5 L553.87 1286.54 L555.14 1286.59 L556.4 1286.63 L557.67 1286.67 L558.94 1286.71 L560.21 1286.75 L561.48 1286.79 L562.75 1286.84 L564.01 1286.88 L565.28 1286.92 L566.55 1286.96 L567.82 1287 L569.09 1287.04 L570.36 1287.07 L571.62 1287.11 L572.89 1287.15 L574.16 1287.19 L575.43 1287.23 L576.7 1287.27 L577.97 1287.3 L579.23 1287.34 L580.5 1287.38 L581.77 1287.42 L583.04 1287.45 L584.31 1287.49 L585.58 1287.53 L586.84 1287.56 L588.11 1287.6 L589.38 1287.63 L590.65 1287.67 L591.92 1287.7 L593.19 1287.74 L594.45 1287.77 L595.72 1287.81 L596.99 1287.84 L598.26 1287.88 L599.53 1287.91 L600.8 1287.94 L602.06 1287.98 L603.33 1288.01 L604.6 1288.04 L605.87 1288.08 L607.14 1288.11 L608.41 1288.14 L609.67 1288.18" fill="none" stroke="#bf00bf" stroke-width="4.7" stroke-linejoin="round"/>
<path d="M230.44 1314.15V947.2" stroke="#000" stroke-opacity="0.5" stroke-width="4.4" stroke-dasharray="16.5 8.16" fill="none"/>
<g stroke="#000" stroke-width="3.0"><line x1="162.95" x2="173.35" y1="1299" y2="1299"/><line x1="162.95" x2="173.35" y1="1210.95" y2="1210.95"/><line x1="162.95" x2="173.35" y1="1122.9" y2="1122.9"/><line x1="162.95" x2="173.35" y1="1034.85" y2="1034.85"/><line x1="162.95" x2="173.35" y1="946.8" y2="946.8"/><line x1="188.3" x2="188.3" y1="1314.15" y2="1303.75"/><line x1="356.85" x2="356.85" y1="1314.15" y2="1303.75"/><line x1="525.4" x2="525.4" y1="1314.15" y2="1303.75"/></g>
<rect x="162.95" y="947.2" width="446.75" height="366.95" fill="none" stroke="#000" stroke-width="3.0"/>
<text x="14" y="972.2" font-size="26" fill="#000" text-anchor="start" textLength="35" lengthAdjust="spacingAndGlyphs">(c)</text>
<text transform="translate(144.1 1308.5) scale(1.1 1)" font-size="26" fill="#000" text-anchor="middle" stroke="#fff" stroke-width="0.2">0</text>
<text transform="translate(144.1 1220.45) scale(1.1 1)" font-size="26" fill="#000" text-anchor="middle" stroke="#fff" stroke-width="0.2">1</text>
<text transform="translate(144.1 1132.4) scale(1.1 1)" font-size="26" fill="#000" text-anchor="middle" stroke="#fff" stroke-width="0.2">2</text>
<text transform="translate(144.1 1044.35) scale(1.1 1)" font-size="26" fill="#000" text-anchor="middle" stroke="#fff" stroke-width="0.2">3</text>
<text transform="translate(144.1 956.3) scale(1.1 1)" font-size="26" fill="#000" text-anchor="middle" stroke="#fff" stroke-width="0.2">4</text>
<text transform="translate(188.3 1344.4) scale(1.1 1)" font-size="26" fill="#000" text-anchor="middle" stroke="#fff" stroke-width="0.2">0</text>
<text transform="translate(356.85 1344.4) scale(1.1 1)" font-size="26" fill="#000" text-anchor="middle" stroke="#fff" stroke-width="0.2">1</text>
<text transform="translate(525.4 1344.4) scale(1.1 1)" font-size="26" fill="#000" text-anchor="middle" stroke="#fff" stroke-width="0.2">2</text>
<text x="251" y="1379.8" font-size="25.6" fill="#000" text-anchor="start" textLength="268" lengthAdjust="spacingAndGlyphs" stroke="#fff" stroke-width="0.2">Rayleigh length (mm)</text>
<text transform="translate(119.3 1307) rotate(-90)" x="0" y="0" font-size="25.6" fill="#000" text-anchor="start" textLength="351" lengthAdjust="spacingAndGlyphs" stroke="#fff" stroke-width="0.2">Detected fluorescence (a.u.)</text>
</svg>
</body></html>
